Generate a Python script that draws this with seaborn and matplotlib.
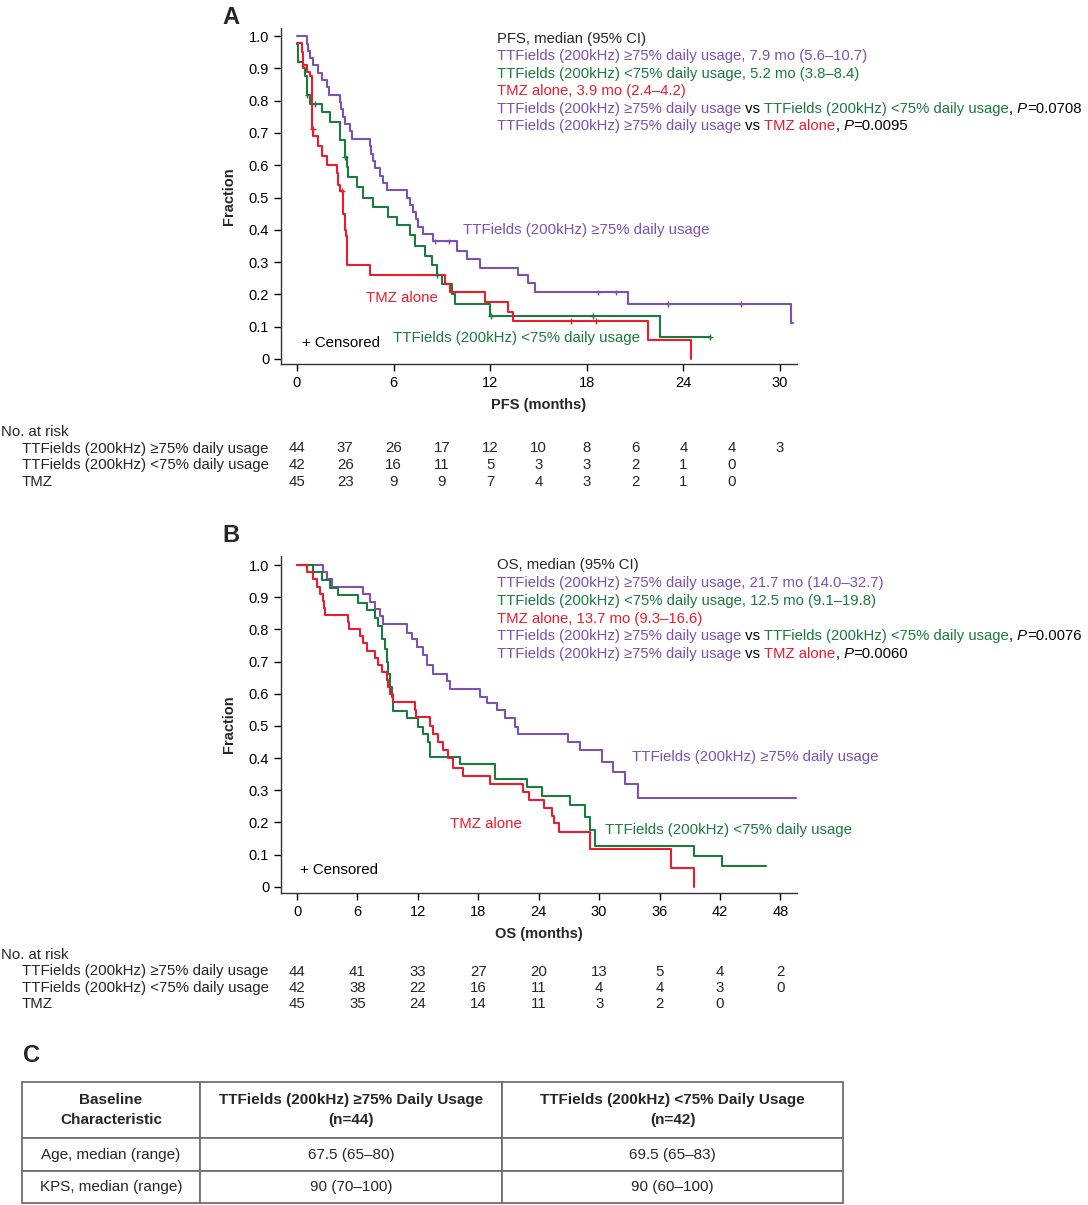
import numpy as np
import pandas as pd
import matplotlib
matplotlib.use("Agg")
import matplotlib.pyplot as plt
import seaborn as sns
from matplotlib.transforms import blended_transform_factory

# ---------------- data ----------------
grp_hi = "TTFields (200kHz) \u226575% daily usage"
grp_lo = "TTFields (200kHz) <75% daily usage"
grp_tmz = "TMZ alone"

# PFS (months, survival fraction after each step)
pfs_hi_t = [0, 0.6, 0.7, 0.81, 1.0, 1.3, 1.53, 1.84, 2.0, 2.67, 2.75, 2.85, 3.0, 3.29, 3.4,
            4.53, 4.6, 4.7, 4.84, 5.16, 5.35, 5.57, 6.81, 7.02, 7.2, 7.4, 7.54, 7.85, 8.47,
            9.92, 10.54, 11.37, 13.75, 14.37, 14.78, 20.58, 30.7]
pfs_hi_s = [1.0, 0.977, 0.955, 0.932, 0.909, 0.886, 0.864, 0.841, 0.818, 0.795, 0.773, 0.750,
            0.727, 0.705, 0.682, 0.659, 0.636, 0.614, 0.591, 0.568, 0.545, 0.523, 0.500, 0.477,
            0.455, 0.432, 0.409, 0.386, 0.364, 0.335, 0.31, 0.282, 0.26, 0.235, 0.206, 0.17, 0.113]
pfs_hi_end = 30.8
pfs_hi_cens = [8.57, 9.46, 18.7, 19.8, 23.06, 27.6]

pfs_lo_t = [0, 0.05, 0.39, 0.5, 0.6, 0.81, 1.53, 2.05, 2.67, 2.98, 3.1, 3.19, 3.71, 4.12, 4.74,
            5.67, 6.19, 7.02, 7.33, 7.95, 8.36, 8.67, 8.99, 9.61, 9.81, 11.99, 22.55]
pfs_lo_s = [0.976, 0.92, 0.90, 0.875, 0.817, 0.79, 0.765, 0.734, 0.677, 0.625, 0.595, 0.563,
            0.532, 0.50, 0.47, 0.44, 0.415, 0.385, 0.35, 0.32, 0.29, 0.26, 0.232, 0.20, 0.17,
            0.134, 0.068]
pfs_lo_end = 25.65
pfs_lo_cens = [0.65, 1.1, 3.0, 8.7, 12.07, 18.37, 25.65]

pfs_tmz_t = [0, 0.29, 0.39, 0.6, 0.81, 0.91, 1.01, 1.33, 1.53, 1.84, 2.46, 2.57, 2.67, 2.84,
             2.88, 3.0, 3.04, 3.13, 4.53, 9.19, 9.5, 11.68, 13.1, 13.44, 21.8, 24.5]
pfs_tmz_s = [0.978, 0.95, 0.91, 0.89, 0.875, 0.713, 0.69, 0.66, 0.63, 0.60, 0.575, 0.54, 0.52,
             0.50, 0.45, 0.40, 0.38, 0.29, 0.26, 0.232, 0.206, 0.177, 0.146, 0.118, 0.058, 0.0]
pfs_tmz_end = 24.5
pfs_tmz_cens = [0.4, 1.0, 2.8, 17.0, 18.6]

# OS
os_hi_t = [0, 2.62, 2.95, 3.44, 6.59, 7.25, 7.75, 8.25, 8.58, 10.9, 11.39, 11.89, 12.55, 12.88,
           13.54, 14.87, 15.2, 18.18, 18.84, 19.83, 20.65, 21.6, 21.97, 26.95, 28.1, 30.3, 31.4,
           32.6, 33.9]
os_hi_s = [1.0, 0.977, 0.955, 0.932, 0.909, 0.886, 0.864, 0.841, 0.818, 0.79, 0.77, 0.745, 0.72,
           0.69, 0.66, 0.64, 0.616, 0.59, 0.57, 0.549, 0.523, 0.497, 0.476, 0.45, 0.424, 0.388,
           0.357, 0.32, 0.275]
os_hi_end = 49.6

os_lo_t = [0, 1.62, 2.45, 3.28, 4.1, 6.09, 6.92, 7.75, 8.08, 8.41, 8.74, 8.9, 9.07, 9.24, 9.4,
           9.57, 10.9, 12.05, 12.55, 13.05, 13.2, 16.2, 19.7, 22.8, 24.3, 27.1, 28.6, 29.1, 29.6,
           39.4, 42.2]
os_lo_s = [1.0, 0.977, 0.953, 0.93, 0.906, 0.882, 0.86, 0.835, 0.81, 0.77, 0.74, 0.70, 0.66,
           0.62, 0.59, 0.545, 0.523, 0.497, 0.475, 0.45, 0.403, 0.38, 0.334, 0.31, 0.282, 0.254,
           0.218, 0.176, 0.125, 0.094, 0.063]
os_lo_end = 46.6

os_tmz_t = [0, 0.96, 1.62, 1.95, 2.28, 2.62, 2.7, 2.78, 5.1, 5.2, 6.26, 6.59, 6.92, 7.75, 8.08,
            8.41, 8.9, 9.0, 9.24, 9.57, 11.72, 11.8, 13.2, 13.54, 14.04, 14.54, 15.03, 15.53,
            16.52, 19.2, 22.4, 23.0, 24.5, 25.3, 25.5, 26.0, 29.1, 37.1, 39.4]
os_tmz_s = [1.0, 0.978, 0.956, 0.933, 0.911, 0.889, 0.867, 0.844, 0.822, 0.8, 0.778, 0.756,
            0.733, 0.711, 0.689, 0.667, 0.644, 0.622, 0.6, 0.573, 0.55, 0.527, 0.50, 0.475,
            0.45, 0.425, 0.40, 0.37, 0.345, 0.32, 0.295, 0.27, 0.245, 0.22, 0.197, 0.171,
            0.116, 0.057, 0.0]
os_tmz_end = 39.4

# numbers at risk
risk_labels = ["TTFields (200kHz) \u226575% daily usage", "TTFields (200kHz) <75% daily usage", "TMZ"]
pfs_risk_times = [0, 3, 6, 9, 12, 15, 18, 21, 24, 27, 30]
pfs_risk_hi = [44, 37, 26, 17, 12, 10, 8, 6, 4, 4, 3]
pfs_risk_lo = [42, 26, 16, 11, 5, 3, 3, 2, 1, 0]
pfs_risk_tmz = [45, 23, 9, 9, 7, 4, 3, 2, 1, 0]
os_risk_times = [0, 6, 12, 18, 24, 30, 36, 42, 48]
os_risk_hi = [44, 41, 33, 27, 20, 13, 5, 4, 2]
os_risk_lo = [42, 38, 22, 16, 11, 4, 4, 3, 0]
os_risk_tmz = [45, 35, 24, 14, 11, 3, 2, 0]

pfs_xticks = [0, 6, 12, 18, 24, 30]
os_xticks = [0, 6, 12, 18, 24, 30, 36, 42, 48]
y_ticks = [0, 0.1, 0.2, 0.3, 0.4, 0.5, 0.6, 0.7, 0.8, 0.9, 1.0]
y_ticklabels = ["0", "0.1", "0.2", "0.3", "0.4", "0.5", "0.6", "0.7", "0.8", "0.9", "1.0"]

table_header = ["Baseline\nCharacteristic",
                "TTFields (200kHz) \u226575% Daily Usage\n(n=44)",
                "TTFields (200kHz) <75% Daily Usage\n(n=42)"]
table_rows = [["Age, median (range)", "67.5 (65\u201380)", "69.5 (65\u201383)"],
              ["KPS, median (range)", "90 (70\u2013100)", "90 (60\u2013100)"]]

# ---------------- style ----------------
PURPLE = "#7B52B0"
GREEN = "#1B7A3E"
RED = "#EC1C2E"
palette = {grp_hi: PURPLE, grp_lo: GREEN, grp_tmz: RED}

sns.set_style("ticks")
plt.rcParams["font.family"] = ["Liberation Sans", "DejaVu Sans"]
FS = 10.5
FS_LEG = 10.75
FS_RISK = 10.8
FS_TAB = 11

W, H = 1088, 1205
fig = plt.figure(figsize=(W / 100, H / 100), dpi=100)


def px(x, y):
    return x / W, 1 - y / H


def km_frame(groups):
    rows = []
    for name, t, s, end in groups:
        tt = list(t) + [end]
        ss = list(s) + [s[-1]]
        rows.append(pd.DataFrame({"time": tt, "surv": ss, "group": name}))
    return pd.concat(rows, ignore_index=True)


def cens_frame(groups):
    rows = []
    for name, t, s, c in groups:
        t = np.asarray(t); s = np.asarray(s); c = np.asarray(c)
        idx = np.searchsorted(t, c, side="right") - 1
        rows.append(pd.DataFrame({"time": c, "surv": s[idx], "group": name}))
    return pd.concat(rows, ignore_index=True)


def style_axes(ax, xlim, ylim, xticks, xlabel):
    ax.set_xlim(*xlim)
    ax.set_ylim(*ylim)
    ax.set_xticks(xticks)
    ax.set_yticks(y_ticks)
    ax.set_yticklabels(y_ticklabels)
    ax.tick_params(direction="out", length=5, width=1, labelsize=FS, colors="black")
    for sp in ["top", "right"]:
        ax.spines[sp].set_visible(False)
    for sp in ["left", "bottom"]:
        ax.spines[sp].set_linewidth(1.0)
        ax.spines[sp].set_color("#333333")
    ax.set_xlabel(xlabel, fontsize=FS, fontweight="bold", labelpad=6)
    ax.set_ylabel("Fraction", fontsize=FS, fontweight="bold", labelpad=9)


def colored_line(ax, x, y, parts):
    prev = None
    for txt, col, style in parts:
        kw = dict(color=col, fontsize=FS_LEG, fontstyle=style)
        if prev is None:
            prev = fig.text(*px(x, y), txt, ha="left", va="center", **kw)
        else:
            prev = ax.annotate(txt, xy=(1, 0), xycoords=prev, ha="left", va="bottom",
                               annotation_clip=False, **kw)


def risk_table(ax, y0, times, series):
    trans = blended_transform_factory(ax.transData, fig.transFigure)
    fig.text(*px(1, y0), "No. at risk", ha="left", va="center", fontsize=FS_RISK)
    for i, (lab, vals) in enumerate(zip(risk_labels, series)):
        yy = y0 + 16.5 * (i + 1)
        fig.text(*px(22, yy), lab, ha="left", va="center", fontsize=FS_RISK)
        for t, v in zip(times, vals):
            ax.text(t, 1 - yy / H, str(v), transform=trans, ha="center", va="center",
                    fontsize=FS_RISK)


# ---------------- panel A ----------------
axA = fig.add_axes([281 / W, 1 - 364 / H, 516 / W, 336 / H])
dfA = km_frame([(grp_hi, pfs_hi_t, pfs_hi_s, pfs_hi_end),
                (grp_lo, pfs_lo_t, pfs_lo_s, pfs_lo_end),
                (grp_tmz, pfs_tmz_t, pfs_tmz_s, pfs_tmz_end)])
sns.lineplot(data=dfA, x="time", y="surv", hue="group", palette=palette, estimator=None,
             sort=False, drawstyle="steps-post", linewidth=1.5, legend=False, ax=axA)
cA = cens_frame([(grp_hi, pfs_hi_t, pfs_hi_s, pfs_hi_cens),
                 (grp_lo, pfs_lo_t, pfs_lo_s, pfs_lo_cens),
                 (grp_tmz, pfs_tmz_t, pfs_tmz_s, pfs_tmz_cens)])
sns.scatterplot(data=cA, x="time", y="surv", hue="group", palette=palette, marker="+",
                s=16, linewidth=1.0, legend=False, ax=axA, zorder=3)
style_axes(axA, (-0.99, 31.06), (-0.0155, 1.025), pfs_xticks, "PFS (months)")

axA.text(10.3, 0.398, grp_hi, color=PURPLE, fontsize=FS + 0.3, va="center")
axA.text(4.29, 0.19, grp_tmz, color=RED, fontsize=FS + 0.3, va="center")
axA.text(5.96, 0.065, grp_lo, color=GREEN, fontsize=FS + 0.3, va="center")
axA.text(0.3, 0.05, "+ Censored", color="black", fontsize=FS + 0.3, va="center")

ly = 39
step = 17.4
fig.text(*px(497, ly), "PFS, median (95% CI)", ha="left", va="center", fontsize=FS_LEG)
colored_line(axA, 497, ly + step, [(grp_hi + ", 7.9 mo (5.6\u201310.7)", PURPLE, "normal")])
colored_line(axA, 497, ly + 2 * step, [(grp_lo + ", 5.2 mo (3.8\u20138.4)", GREEN, "normal")])
colored_line(axA, 497, ly + 3 * step, [(grp_tmz + ", 3.9 mo (2.4\u20134.2)", RED, "normal")])
colored_line(axA, 497, ly + 4 * step, [(grp_hi, PURPLE, "normal"), (" vs", "black", "normal"),
                                       (" " + grp_lo, GREEN, "normal"), (",", "black", "normal"),
                                       (" P", "black", "italic"), ("=0.0708", "black", "normal")])
colored_line(axA, 497, ly + 5 * step, [(grp_hi, PURPLE, "normal"), (" vs", "black", "normal"),
                                       (" " + grp_tmz, RED, "normal"), (",", "black", "normal"),
                                       (" P", "black", "italic"), ("=0.0095", "black", "normal")])

risk_table(axA, 432, pfs_risk_times, [pfs_risk_hi, pfs_risk_lo, pfs_risk_tmz])

# ---------------- panel B ----------------
axB = fig.add_axes([281 / W, 1 - 892.7 / H, 516 / W, 336.7 / H])
dfB = km_frame([(grp_hi, os_hi_t, os_hi_s, os_hi_end),
                (grp_lo, os_lo_t, os_lo_s, os_lo_end),
                (grp_tmz, os_tmz_t, os_tmz_s, os_tmz_end)])
sns.lineplot(data=dfB, x="time", y="surv", hue="group", palette=palette, estimator=None,
             sort=False, drawstyle="steps-post", linewidth=1.5, legend=False, ax=axB)
style_axes(axB, (-1.59, 49.65), (-0.0187, 1.028), os_xticks, "OS (months)")

axB.text(33.3, 0.403, grp_hi, color=PURPLE, fontsize=FS + 0.3, va="center")
axB.text(30.6, 0.176, grp_lo, color=GREEN, fontsize=FS + 0.3, va="center")
axB.text(15.2, 0.195, grp_tmz, color=RED, fontsize=FS + 0.3, va="center")
axB.text(0.3, 0.052, "+ Censored", color="black", fontsize=FS + 0.3, va="center")

ly = 565.5
step = 17.7
fig.text(*px(497, ly), "OS, median (95% CI)", ha="left", va="center", fontsize=FS_LEG)
colored_line(axB, 497, ly + step, [(grp_hi + ", 21.7 mo (14.0\u201332.7)", PURPLE, "normal")])
colored_line(axB, 497, ly + 2 * step, [(grp_lo + ", 12.5 mo (9.1\u201319.8)", GREEN, "normal")])
colored_line(axB, 497, ly + 3 * step, [(grp_tmz + ", 13.7 mo (9.3\u201316.6)", RED, "normal")])
colored_line(axB, 497, ly + 4 * step, [(grp_hi, PURPLE, "normal"), (" vs", "black", "normal"),
                                       (" " + grp_lo, GREEN, "normal"), (",", "black", "normal"),
                                       (" P", "black", "italic"), ("=0.0076", "black", "normal")])
colored_line(axB, 497, ly + 5 * step, [(grp_hi, PURPLE, "normal"), (" vs", "black", "normal"),
                                       (" " + grp_tmz, RED, "normal"), (",", "black", "normal"),
                                       (" P", "black", "italic"), ("=0.0060", "black", "normal")])

risk_table(axB, 955, os_risk_times, [os_risk_hi, os_risk_lo, os_risk_tmz])

# ---------------- panel letters ----------------
fig.text(*px(231, 18), "A", fontsize=17, fontweight="bold", ha="center", va="center")
fig.text(*px(231, 535), "B", fontsize=17, fontweight="bold", ha="center", va="center")
fig.text(*px(31, 1055), "C", fontsize=17, fontweight="bold", ha="center", va="center")

# ---------------- table C ----------------
axC = fig.add_axes([22 / W, 1 - 1203 / H, 821 / W, 121 / H])
axC.axis("off")
col_w = [178, 302, 341]
tbl = axC.table(cellText=table_rows, colLabels=table_header, cellLoc="center",
                colWidths=[w / sum(col_w) for w in col_w], bbox=[0, 0, 1, 1])
tbl.auto_set_font_size(False)
tbl.set_fontsize(FS_TAB)
heights = [56, 33, 32]
for (r, c), cell in tbl.get_celld().items():
    cell.set_edgecolor("#707070")
    cell.set_linewidth(1.3)
    cell.set_height(heights[r] / sum(heights))
    if r == 0:
        cell.get_text().set_fontweight("bold")
        cell.get_text().set_linespacing(1.55)

fig.savefig("out.png", dpi=100)
